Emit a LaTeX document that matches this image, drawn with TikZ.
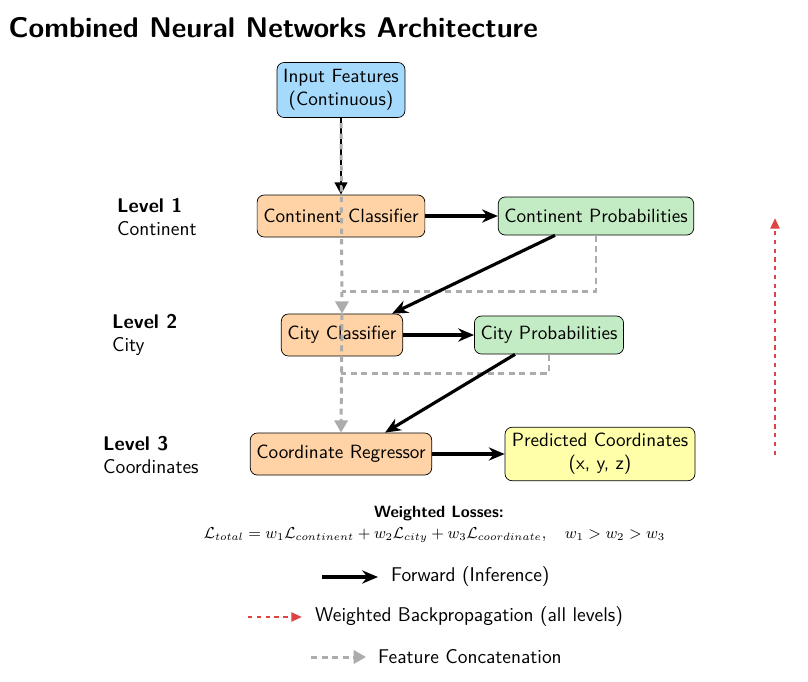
\documentclass[tikz,border=0pt]{standalone}
\usepackage{amsmath}
\usetikzlibrary{arrows.meta, positioning, calc}

\definecolor{inblue}{RGB}{165,218,252}
\definecolor{clsorange}{RGB}{255,211,165}
\definecolor{probgreen}{RGB}{196,236,196}
\definecolor{outyellow}{RGB}{255,255,170}
\definecolor{bpred}{RGB}{222,66,66}

\begin{document}
\begin{tikzpicture}[
    box/.style={draw, rounded corners=4pt, minimum height=0.84cm, inner sep=3.5pt,
                text centered, align=center,
                font=\fontsize{10.9}{13}\selectfont\sffamily, fill=#1},
    lvl/.style={anchor=west, align=left, font=\fontsize{11.3}{13.5}\selectfont\sffamily},
    leg/.style={anchor=west, font=\fontsize{11.3}{13}\selectfont\sffamily},
    fwd/.style={-{Stealth[length=9pt, width=7.5pt]}, line width=1.8pt},
    concat/.style={-{Triangle[length=7pt, width=7.5pt]}, gray!65,
                   dash pattern=on 3.5pt off 2.5pt, line width=1.7pt},
    backprop/.style={-{Triangle[length=6pt, width=5pt]}, bpred,
                     dash pattern=on 2.5pt off 2.5pt, line width=1.4pt},
    >=Stealth
  ]
  \useasboundingbox (0,0) rectangle (16.16,-13.62);

  % Title
  \node[anchor=west, font=\fontsize{16.2}{19}\selectfont\bfseries\sffamily] (title)
    at (0.05,-0.56) {Combined Neural Networks Architecture};

  % Input
  \node[box=inblue, minimum height=1.1cm] (input) at (6.82,-1.80)
    {Input Features\\(Continuous)};

  % Level 1
  \node[box=clsorange] (contclass) at (6.82,-4.32) {Continent Classifier};
  \node[box=probgreen, minimum height=0.76cm] (contprob) at (11.92,-4.32)
    {Continent Probabilities};

  % Level 2
  \node[box=clsorange] (cityclass) at (6.84,-6.70) {City Classifier};
  \node[box=probgreen, minimum height=0.76cm] (cityprob) at (10.98,-6.70)
    {City Probabilities};

  % Level 3
  \node[box=clsorange] (coordreg) at (6.82,-9.08) {Coordinate Regressor};
  \node[box=outyellow, minimum height=1.04cm, minimum width=3.8cm] (predcoord) at (12.0,-9.08)
    {Predicted Coordinates\\(x, y, z)};

  % Level labels
  \node[lvl] (lvl1) at (2.22,-4.34) {\textbf{Level 1}\\Continent};
  \node[lvl] (lvl2) at (2.12,-6.70) {\textbf{Level 2}\\City};
  \node[lvl] (lvl3) at (1.94,-9.10) {\textbf{Level 3}\\Coordinates};

  % Input arrow
  \draw[-{Triangle[open, length=7pt, width=7pt]}, dash pattern=on 3pt off 3pt,
        line width=1.7pt] (input) -- (contclass);

  % Feature concatenation
  \coordinate (cp1) at (contprob.south |- 0,-5.82);
  \coordinate (cp2) at (input.south |- 0,-7.46);
  \draw[concat, dash pattern=on 3pt off 3pt, dash phase=3pt] (input.south) -- (cityclass.north);
  \draw[concat] (cityclass.north) -- (coordreg.north);
  \draw[concat, -] (contprob.south) |- (cityclass.north |- cp1);
  \draw[concat, -] (cityprob.south) |- (cp2);

  % Forward arrows
  \draw[fwd] (contclass) -- (contprob);
  \draw[fwd] ([xshift=-0.82cm]contprob.south) -- ([xshift=1.0cm]cityclass.north);
  \draw[fwd] (cityclass) -- (cityprob);
  \draw[fwd] ([xshift=-0.68cm]cityprob.south) -- ([xshift=0.88cm]coordreg.north);
  \draw[fwd] (coordreg) -- (predcoord);

  % Backpropagation
  \coordinate (bp1) at (15.50,-9.10);
  \coordinate (bp2) at (15.50,-4.36);
  \draw[backprop] (bp1) -- (bp2);

  % Losses
  \node[font=\fontsize{9.3}{11}\selectfont\bfseries\sffamily] (losstitle) at (8.78,-10.28)
    {Weighted Losses:};
  \node[font=\small] (lossformula) at (8.69,-10.70)
    {$\mathcal{L}_{total} = w_1\mathcal{L}_{continent} + w_2\mathcal{L}_{city}
      + w_3\mathcal{L}_{coordinate}, \quad w_1 > w_2 > w_3$};

  % Legend
  \coordinate (lf1) at (6.44,-11.54);
  \coordinate (lf2) at (7.56,-11.54);
  \draw[fwd] (lf1) -- (lf2);
  \node[leg] (legfwd) at (7.70,-11.54) {Forward (Inference)};

  \coordinate (lb1) at (4.96,-12.34);
  \coordinate (lb2) at (6.04,-12.34);
  \draw[backprop] (lb1) -- (lb2);
  \node[leg] (legbp) at (6.18,-12.34) {Weighted Backpropagation (all levels)};

  \coordinate (lc1) at (6.22,-13.14);
  \coordinate (lc2) at (7.32,-13.14);
  \draw[concat] (lc1) -- (lc2);
  \node[leg] (legcc) at (7.44,-13.14) {Feature Concatenation};

\end{tikzpicture}
\end{document}
